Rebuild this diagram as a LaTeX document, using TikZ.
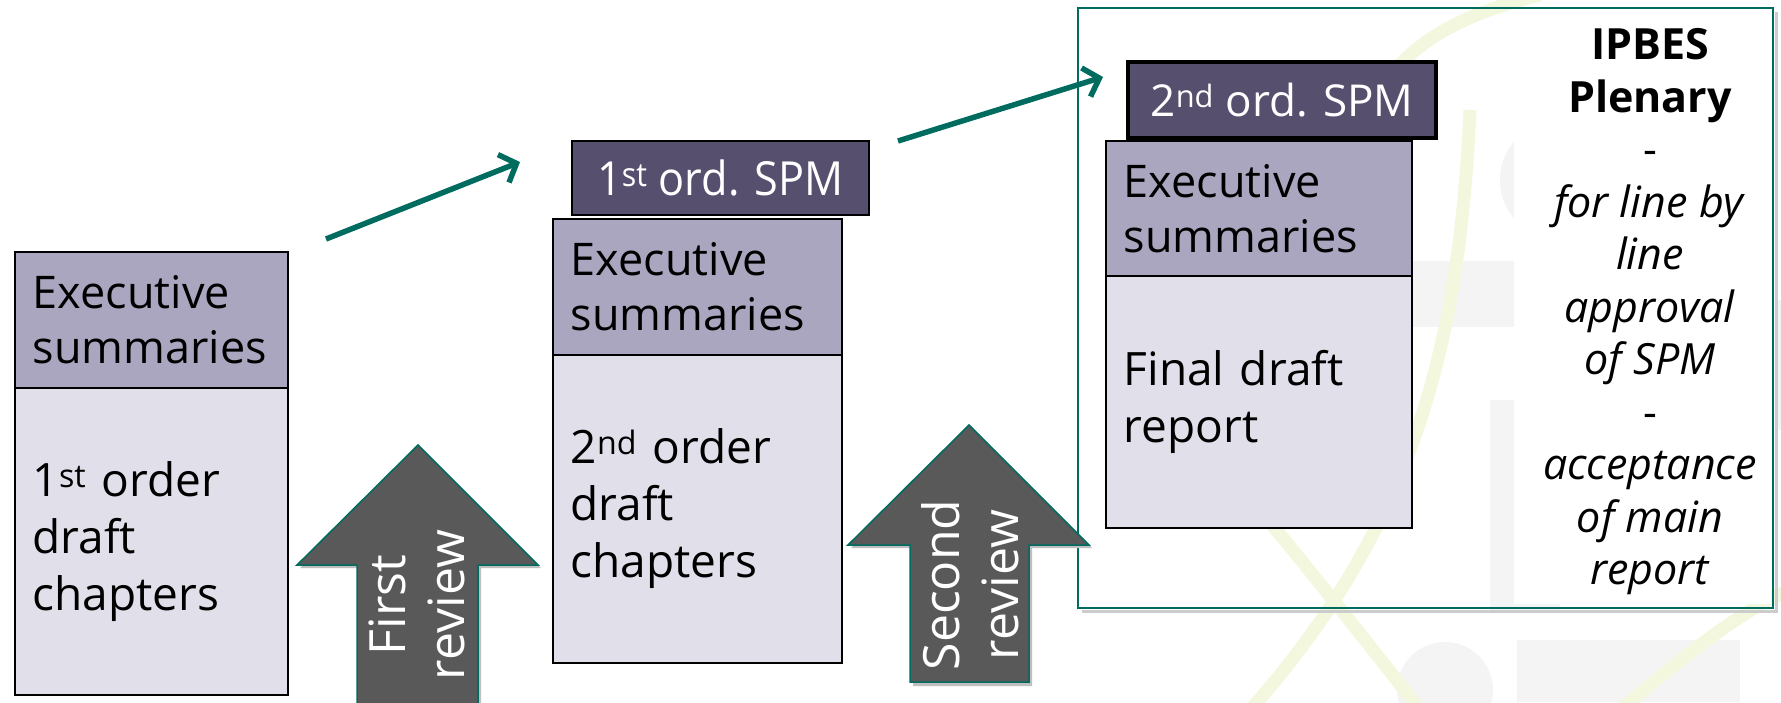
\documentclass[tikz,border=0pt]{standalone}
\usepackage{fontspec}
\setmainfont{Open Sans}
\usetikzlibrary{arrows.meta}
\definecolor{tealc}{RGB}{0,108,96}
\definecolor{esfill}{RGB}{171,166,191}
\definecolor{chfill}{RGB}{225,224,234}
\definecolor{spmfill}{RGB}{86,79,110}
\definecolor{arrfill}{RGB}{89,89,89}
\definecolor{wmgreen}{RGB}{243,247,222}
\definecolor{wmgrey}{RGB}{244,244,244}
\tikzset{
  esbox/.style={draw=black, line width=1.5pt, fill=esfill, anchor=north west, inner xsep=18pt, inner ysep=0pt, align=left, font=\fontsize{45}{55}\selectfont},
  chbox/.style={draw=black, line width=1.5pt, fill=chfill, anchor=north west, inner xsep=18pt, inner ysep=0pt, align=left, font=\fontsize{46}{57}\selectfont},
  spmbox/.style={draw=black, fill=spmfill, text=white, anchor=north west, inner sep=0pt, font=\fontsize{44}{50}\selectfont},
  conn/.style={draw=tealc, line width=5.5pt, -{Straight Barb[length=14pt,width=30pt,line width=5.5pt]}},
  blockarr/.style={draw=tealc, line width=1.5pt, fill=arrfill},
  revtext/.style={text=white, rotate=90, align=center, font=\fontsize{50}{59}\selectfont},
  wmline/.style={draw=wmgreen, line width=13pt},
}
\begin{document}
\begin{tikzpicture}[x=1pt,y=-1pt]
\useasboundingbox (0,0) rectangle (1781,702);
\fill[white] (0,0) rectangle (1781,702);
% watermark
\begin{scope}
\clip (0,0) rectangle (1781,702);
\fill[wmgrey] (1411,261) rectangle (1560,327);
\fill[wmgrey] (1490,400) rectangle (1560,610);
\fill[wmgrey] (1560,180) circle (60);
\fill[wmgrey] (1445,690) circle (48);
\fill[wmgrey] (1517,640) rectangle (1740,702);
\fill[wmgrey] (1775,300) rectangle (1781,430);
\draw[wmline] (1395,70) .. controls (1430,30) and (1480,10) .. (1540,-5);
\draw[wmline] (1470,110) .. controls (1460,330) and (1420,520) .. (1250,710);
\draw[wmline] (1200,440) .. controls (1270,520) and (1350,620) .. (1420,710);
\draw[wmline] (1620,710) .. controls (1680,660) and (1740,610) .. (1790,590);
\end{scope}
% frame shadow and frame
\draw[black!20, line width=3pt] (1082,611) -- (1776,611) -- (1776,12);
\fill[white] (1514,10) rectangle (1771,604);
\draw[tealc, line width=2pt] (1078,8) rectangle (1773,608);
% boxes, column 1
\node[esbox, minimum width=273pt, minimum height=136pt, text width=237pt] (es1) at (14,251) {Executive\\summaries};
\node[chbox, minimum width=273pt, minimum height=307pt, text width=237pt] (ch1) at (14,387) {1\textsuperscript{st} order\\draft\\chapters};
% column 2
\node[esbox, minimum width=289pt, minimum height=136pt, text width=253pt] (es2) at (552,218) {Executive\\summaries};
\node[chbox, minimum width=289pt, minimum height=308pt, text width=253pt] (ch2) at (552,354) {2\textsuperscript{nd} order\\draft\\chapters};
\node[spmbox, line width=1.5pt, minimum width=297pt, minimum height=74pt] (spm1) at (571,140) {\fontsize{47}{50}\selectfont\scalebox{0.92}[1]{1\textsuperscript{st} ord. SPM}};
% column 3
\node[esbox, minimum width=306pt, minimum height=135pt, text width=270pt] (es3) at (1105,140) {Executive\\summaries};
\node[chbox, minimum width=306pt, minimum height=252pt, text width=270pt] (ch3) at (1105,275) {Final draft\\report};
\node[spmbox, line width=4pt, minimum width=308pt, minimum height=76pt] (spm2) at (1126,60) {2\textsuperscript{nd} ord. SPM};
% plenary text
\node[align=center, font=\fontsize{43}{52.5}\selectfont] (plen) at (1650,312) {\textbf{IPBES}\\\textbf{Plenary}\\-\\\textit{for line by}\\\textit{line}\\\textit{approval}\\\textit{of SPM}\\-\\\textit{acceptance}\\\textit{of main}\\\textit{report}};
% teal arrows
\coordinate (a1s) at (326,239);
\coordinate (a1e) at (520,162);
\coordinate (a2s) at (898,141);
\coordinate (a2e) at (1103,77);
\draw[conn] (a1s) -- (a1e);
\draw[conn] (a2s) -- (a2e);
% review block arrows
\fill[black!25] (360,712) -- (360,568) -- (300,568) -- (420,448) -- (541,568) -- (481,568) -- (481,712) -- cycle;
\draw[blockarr] (357,712) -- (357,565) -- (297,565) -- (418,445) -- (538,565) -- (478,565) -- (478,712) -- cycle;
\node[revtext] (rev1) at (417,605) {First\\review};
\fill[black!25] (913,686) -- (913,548) -- (851,548) -- (972,428) -- (1092,548) -- (1032,548) -- (1032,686) -- cycle;
\draw[blockarr] (910,682) -- (910,545) -- (848,545) -- (969,425) -- (1089,545) -- (1029,545) -- (1029,682) -- cycle;
\node[revtext] (rev2) at (970,585) {Second\\review};
\end{tikzpicture}
\end{document}
